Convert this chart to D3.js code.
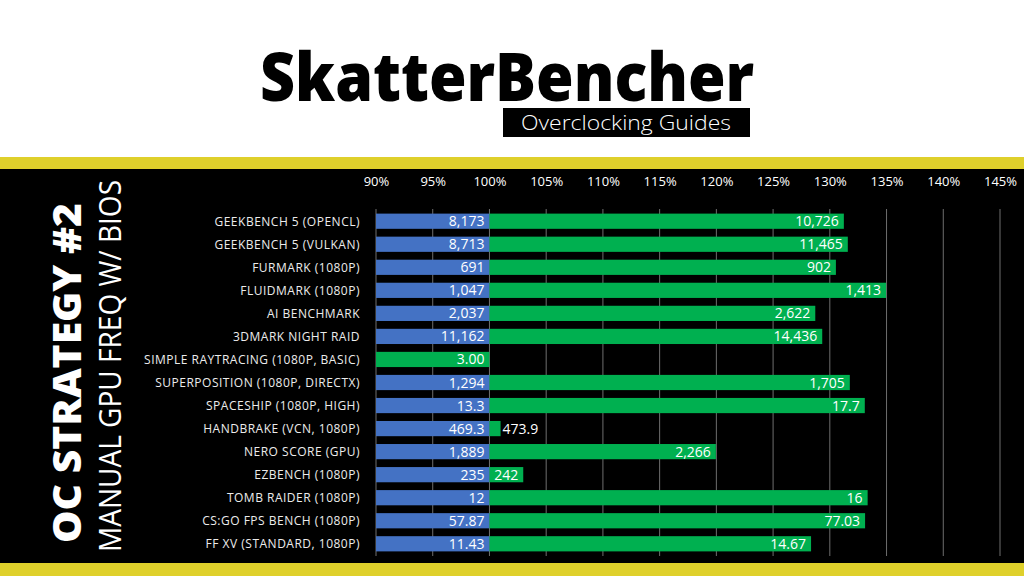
<!DOCTYPE html>
<html>
<head>
<meta charset="utf-8">
<script src="https://cdn.jsdelivr.net/npm/d3@7"></script>
<style>
  html, body { margin: 0; padding: 0; background: #fff; }
  svg { display: block; }
</style>
</head>
<body>
<svg id="chart"></svg>
<script>
// benchmark names, top to bottom
var categories = [
  "GEEKBENCH 5 (OPENCL)", "GEEKBENCH 5 (VULKAN)", "FURMARK (1080P)", "FLUIDMARK (1080P)",
  "AI BENCHMARK", "3DMARK NIGHT RAID", "SIMPLE RAYTRACING (1080P, BASIC)",
  "SUPERPOSITION (1080P, DIRECTX)", "SPACESHIP (1080P, HIGH)", "HANDBRAKE (VCN, 1080P)",
  "NERO SCORE (GPU)", "EZBENCH (1080P)", "TOMB RAIDER (1080P)",
  "CS:GO FPS BENCH (1080P)", "FF XV (STANDARD, 1080P)"
];
// stock scores (null = no stock result)
var stock = [8173, 8713, 691, 1047, 2037, 11162, null, 1294, 13.3, 469.3, 1889, 235, 12, 57.87, 11.43];
// overclocked scores
var oc = [10726, 11465, 902, 1413, 2622, 14436, 3.00, 1705, 17.7, 473.9, 2266, 242, 16, 77.03, 14.67];
// decimals shown in the labels
var decimals = [0, 0, 0, 0, 0, 0, 2, 0, 1, 1, 0, 0, 0, 2, 2];
var tickValues = [90, 95, 100, 105, 110, 115, 120, 125, 130, 135, 140, 145];

var width = 1024, height = 576;
var blue = "#4472c4", green = "#00b050", yellow = "#dfd02b";

var svg = d3.select("#chart").attr("width", width).attr("height", height);

// header
svg.append("rect").attr("width", width).attr("height", height).attr("fill", "#fff");
svg.append("text")
  .attr("x", 260).attr("y", 101)
  .attr("textLength", 494).attr("lengthAdjust", "spacingAndGlyphs")
  .style("font-family", "'Open Sans'").style("font-weight", 800)
  .style("font-size", "68px").attr("fill", "#000")
  .text("SkatterBencher");
svg.append("rect").attr("x", 503).attr("y", 108).attr("width", 247).attr("height", 29).attr("fill", "#000");
svg.append("text")
  .attr("x", 626).attr("y", 130).attr("text-anchor", "middle")
  .attr("textLength", 210).attr("lengthAdjust", "spacingAndGlyphs")
  .style("font-family", "'Open Sans'").style("font-weight", 300)
  .style("font-size", "21px").attr("fill", "#fff")
  .text("Overclocking Guides");

// dark panel with yellow bands
svg.append("rect").attr("x", 0).attr("y", 157).attr("width", width).attr("height", 12).attr("fill", yellow);
svg.append("rect").attr("x", 0).attr("y", 169).attr("width", width).attr("height", 394).attr("fill", "#000");
svg.append("rect").attr("x", 0).attr("y", 563).attr("width", width).attr("height", 13).attr("fill", yellow);

// vertical title
svg.append("text")
  .attr("transform", "translate(81,373) rotate(-90)")
  .attr("text-anchor", "middle")
  .attr("textLength", 340).attr("lengthAdjust", "spacingAndGlyphs")
  .style("font-family", "'Open Sans'").style("font-weight", 800)
  .style("font-size", "38px").attr("fill", "#fff")
  .text("OC STRATEGY #2");
svg.append("text")
  .attr("transform", "translate(121,366) rotate(-90)")
  .attr("text-anchor", "middle")
  .attr("textLength", 372).attr("lengthAdjust", "spacingAndGlyphs")
  .style("font-family", "'Open Sans'").style("font-weight", 400)
  .style("font-size", "31px").attr("fill", "#fff")
  .text("MANUAL GPU FREQ W/ BIOS");

// scales
var x = d3.scaleLinear().domain([90, 145]).range([376, 1000]);
var y = d3.scaleBand().domain(categories).range([209, 556]).paddingInner(0.34).paddingOuter(0.2);

// gridlines
svg.append("g").selectAll("line")
  .data(tickValues)
  .join("line")
  .attr("x1", d => x(d)).attr("x2", d => x(d))
  .attr("y1", 209).attr("y2", 556)
  .attr("stroke", "#6e6e6e").attr("stroke-width", 1);

// top axis labels
var axis = svg.append("g")
  .attr("transform", "translate(0,186)")
  .call(d3.axisTop(x).tickValues(tickValues).tickSize(0).tickPadding(0).tickFormat(d => d + "%"));
axis.select(".domain").remove();
axis.selectAll("text")
  .attr("fill", "#fff")
  .style("font-family", "'Open Sans'").style("font-size", "13px");

// category labels
svg.append("g").selectAll("text")
  .data(categories)
  .join("text")
  .attr("x", 360)
  .attr("y", d => y(d) + y.bandwidth() / 2 + 4.5)
  .attr("text-anchor", "end")
  .attr("fill", "#ececec")
  .style("font-family", "'Open Sans'").style("font-size", "12px")
  .style("letter-spacing", "0.5px")
  .text(d => d);

var rows = categories.map((c, i) => ({
  cat: c,
  stock: stock[i],
  oc: oc[i],
  dec: decimals[i],
  pct: stock[i] == null ? 100 : oc[i] / stock[i] * 100
}));

function fmt(v, dec) {
  return dec === 0 ? d3.format(",.0f")(v) : d3.format("." + dec + "f")(v);
}

// blue (stock) bars: 90% to 100%
var withStock = rows.filter(r => r.stock != null);
svg.append("g").selectAll("rect")
  .data(withStock)
  .join("rect")
  .attr("x", x(90))
  .attr("y", r => y(r.cat))
  .attr("width", x(100) - x(90))
  .attr("height", y.bandwidth())
  .attr("fill", blue);

// green (overclocked) bars
svg.append("g").selectAll("rect")
  .data(rows)
  .join("rect")
  .attr("x", r => r.stock == null ? x(90) : x(100))
  .attr("y", r => y(r.cat))
  .attr("width", r => r.stock == null ? x(100) - x(90) : x(r.pct) - x(100))
  .attr("height", y.bandwidth())
  .attr("fill", green);

var labelFont = "'Open Sans'";

// stock value labels
svg.append("g").selectAll("text")
  .data(withStock)
  .join("text")
  .attr("x", x(100) - 5)
  .attr("y", r => y(r.cat) + y.bandwidth() / 2 + 5)
  .attr("text-anchor", "end")
  .attr("fill", "#fff")
  .style("font-family", labelFont).style("font-size", "14px")
  .text(r => fmt(r.stock, r.dec));

// overclocked value labels
svg.append("g").selectAll("text")
  .data(rows)
  .join("text")
  .attr("y", r => y(r.cat) + y.bandwidth() / 2 + 5)
  .attr("fill", "#fff")
  .style("font-family", labelFont).style("font-size", "14px")
  .text(r => fmt(r.oc, r.dec))
  .each(function(r) {
    var t = d3.select(this);
    var w = this.getComputedTextLength();
    var x0 = r.stock == null ? x(90) : x(100);
    var x1 = r.stock == null ? x(100) : x(r.pct);
    if (x1 - x0 > w + 8) {
      t.attr("x", x1 - 5).attr("text-anchor", "end");
    } else {
      t.attr("x", x1 + 2).attr("text-anchor", "start");
    }
  });
</script>
</body>
</html>
